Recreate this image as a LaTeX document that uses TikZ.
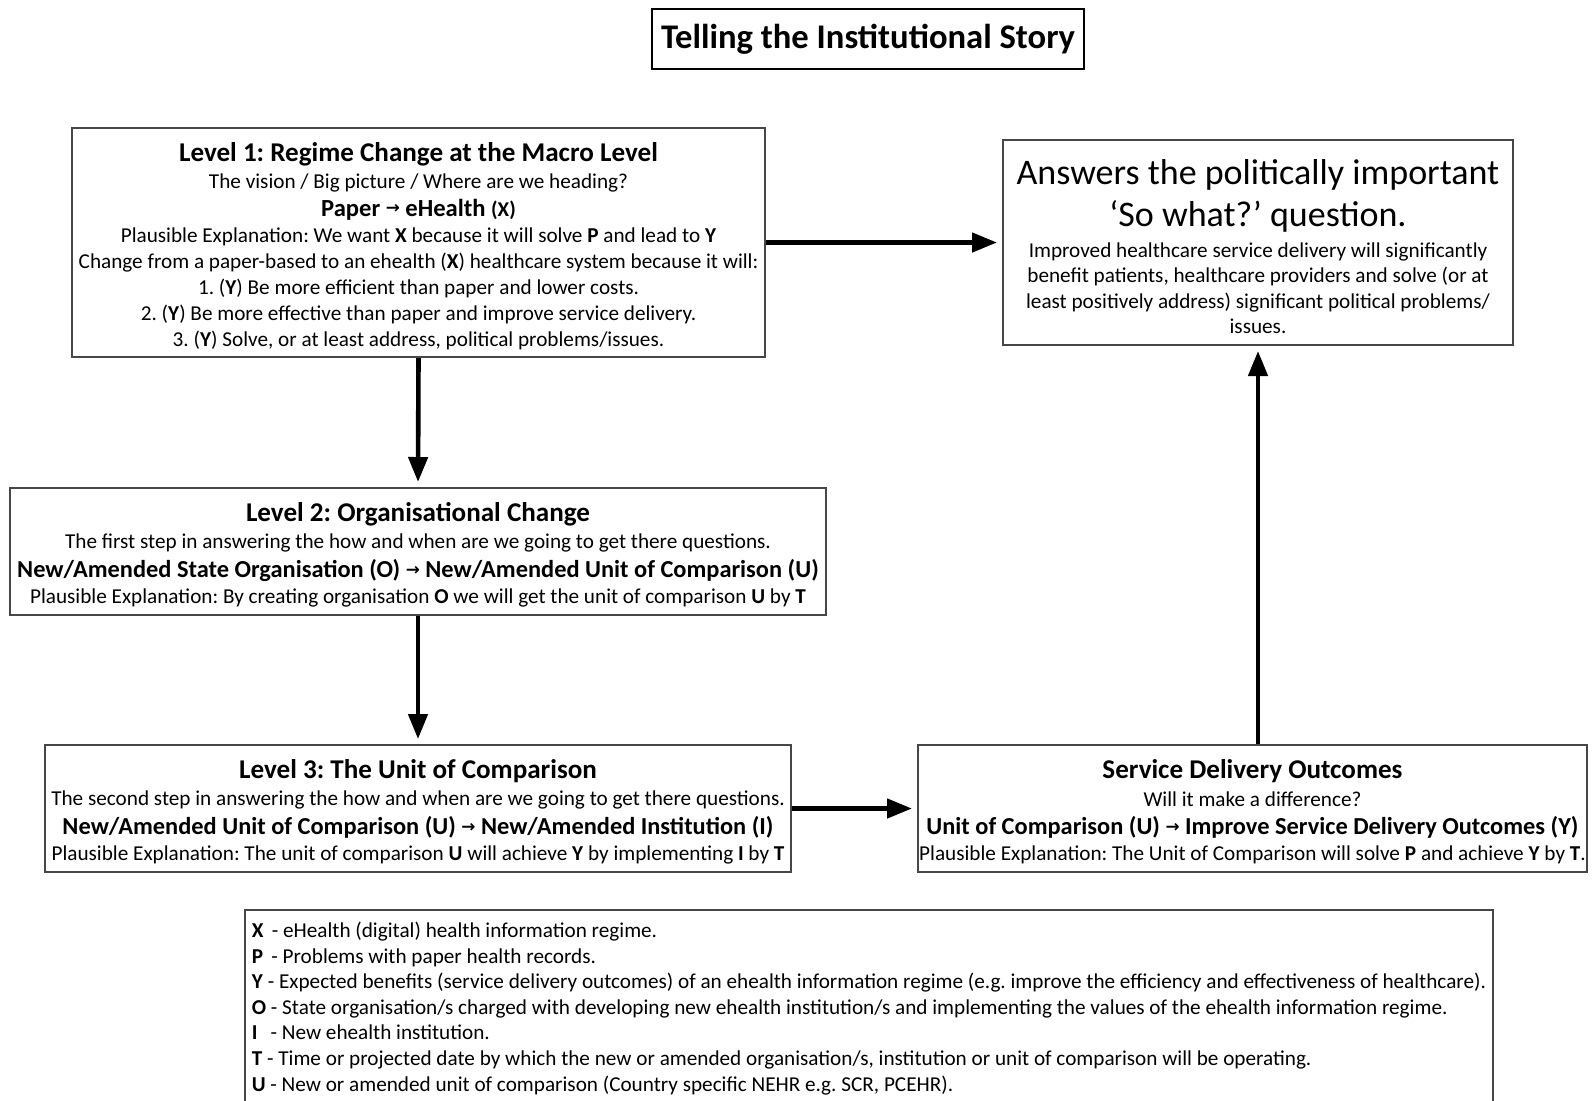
\documentclass[tikz,border=0pt]{standalone}
\usepackage{fontspec}
\setmainfont{Carlito}
\newfontfamily\arrowglyphfont{DejaVu Sans}
\usetikzlibrary{arrows.meta}
\frenchspacing

% small arrow used inside the bold formula lines
\newcommand\smallarrow{\raisebox{0.2ex}{\arrowglyphfont\bfseries\fontsize{8.4}{8.4}\selectfont →}}
% box headings and formula lines
\newcommand\boxhead[1]{{\fontsize{13.55}{13}\selectfont\bfseries #1}}
\newcommand\boxformula[1]{{\fontsize{12.2}{13}\selectfont\bfseries #1}}
% keep every line at exactly the baseline skip
\newcommand\fixedlines{\lineskiplimit=-100pt\relax}
% extra room above a first line
\newcommand\topgap[1]{\rule{0pt}{#1}}

\tikzset{
  storybox/.style={draw=black!72, line width=1pt, fill=white, align=center,
    inner sep=0pt, font={\fontsize{10.6}{13}\selectfont\fixedlines}},
  flow/.style={line width=2.3pt, -{Triangle[length=12.5pt,width=9.5pt]},
    shorten >=2.5pt}
}

\begin{document}
\begin{tikzpicture}[x=0.5pt, y=-0.5pt]
  \clip (0,0) rectangle (1592,1100);
  \fill[white] (0,0) rectangle (1592,1100);

  % title
  \node[draw=black, line width=1.2pt, minimum width=216pt, minimum height=30pt,
        inner sep=0pt, font={\fontsize{17.3}{20}\selectfont\bfseries}]
    (title) at (868,39) {Telling the Institutional Story};

  % level 1
  \node[storybox, minimum width=346.5pt, minimum height=114.5pt]
    (lvl1) at (418.5,242.5) {%
    \boxhead{\topgap{12.8pt}Level 1: Regime Change at the Macro Level}\\[0.9pt]
    The vision / Big picture / Where are we heading?\\[0.7pt]
    {\fontsize{12.3}{13}\selectfont\bfseries Paper \smallarrow{} eHealth {\fontsize{10.5}{11}\selectfont (X)}}\\
    Plausible Explanation: We want \textbf{X} because it will solve \textbf{P} and lead to \textbf{Y}\\
    Change from a paper-based to an ehealth (\textbf{X}) healthcare system because it will:\\
    1. (\textbf{Y}) Be more efficient than paper and lower costs.\\
    2. (\textbf{Y}) Be more effective than paper and improve service delivery.\\
    3. (\textbf{Y}) Solve, or at least address, political problems/issues.};

  % the "so what" box
  \node[storybox, minimum width=255pt, minimum height=102.5pt,
        font={\fontsize{10.6}{12.7}\selectfont\fixedlines}]
    (answer) at (1258,242.5) {%
    {\fontsize{18}{20}\selectfont\topgap{16.3pt}Answers the politically important}\\[8.6pt]
    {\fontsize{18}{20}\selectfont ‘So what?’ question.}\\[2.6pt]
    Improved healthcare service delivery will significantly\\
    benefit patients, healthcare providers and solve (or at\\
    least positively address) significant political problems/\\
    issues.};

  % level 2
  \node[storybox, minimum width=408pt, minimum height=63.5pt]
    (lvl2) at (418,551.5) {%
    \boxhead{\topgap{12.8pt}Level 2: Organisational Change}\\[0.7pt]
    The first step in answering the how and when are we going to get there questions.\\[1.2pt]
    \boxformula{New/Amended State Organisation (O) \smallarrow{} New/Amended Unit of Comparison (U)}\\
    Plausible Explanation: By creating organisation \textbf{O} we will get the unit of comparison \textbf{U} by \textbf{T}};

  % level 3
  \node[storybox, minimum width=373pt, minimum height=63.5pt]
    (lvl3) at (418,808.5) {%
    \boxhead{\topgap{12.8pt}Level 3: The Unit of Comparison}\\[0.7pt]
    The second step in answering the how and when are we going to get there questions.\\[1.2pt]
    \boxformula{New/Amended Unit of Comparison (U) \smallarrow{} New/Amended Institution (I)}\\
    Plausible Explanation: The unit of comparison \textbf{U} will achieve \textbf{Y} by implementing \textbf{I} by \textbf{T}};

  % outcomes
  \node[storybox, minimum width=334.5pt, minimum height=63.5pt]
    (outcome) at (1252.5,808.5) {%
    \boxhead{\topgap{12.8pt}Service Delivery Outcomes}\\[0.7pt]
    Will it make a difference?\\[1.2pt]
    \boxformula{Unit of Comparison (U) \smallarrow{} Improve Service Delivery Outcomes (Y)}\\
    Plausible Explanation: The Unit of Comparison will solve \textbf{P} and achieve \textbf{Y} by \textbf{T}.};

  % key to the letters
  \node[draw=black!72, line width=1pt, anchor=north west, align=left,
        inner xsep=3.4pt, inner ysep=6pt,
        font={\fontsize{10.6}{12.8}\selectfont\fixedlines}]
    (legend) at (244,909) {%
    \textbf{X} \,- eHealth (digital) health information regime.\\
    \textbf{P} \,- Problems with paper health records.\\
    \textbf{Y} - Expected benefits (service delivery outcomes) of an ehealth information regime (e.g. improve the efficiency and effectiveness of healthcare).\\
    \textbf{O} - State organisation/s charged with developing new ehealth institution/s and implementing the values of the ehealth information regime.\\
    \textbf{I} \ \,- New ehealth institution.\\
    \textbf{T} - Time or projected date by which the new or amended organisation/s, institution or unit of comparison will be operating.\\
    \textbf{U} - New or amended unit of comparison (Country specific NEHR e.g. SCR, PCEHR).\\[10pt]};

  % connectors
  \draw[flow] (lvl1.east) -- (answer.west);
  \draw[flow] (lvl1.south) -- (lvl2.north);
  \draw[flow] (lvl2.south) -- (lvl3.north);
  \draw[flow] (lvl3.east) -- (outcome.west);
  \draw[flow] (answer.south |- outcome.north) -- (answer.south);
\end{tikzpicture}
\end{document}
